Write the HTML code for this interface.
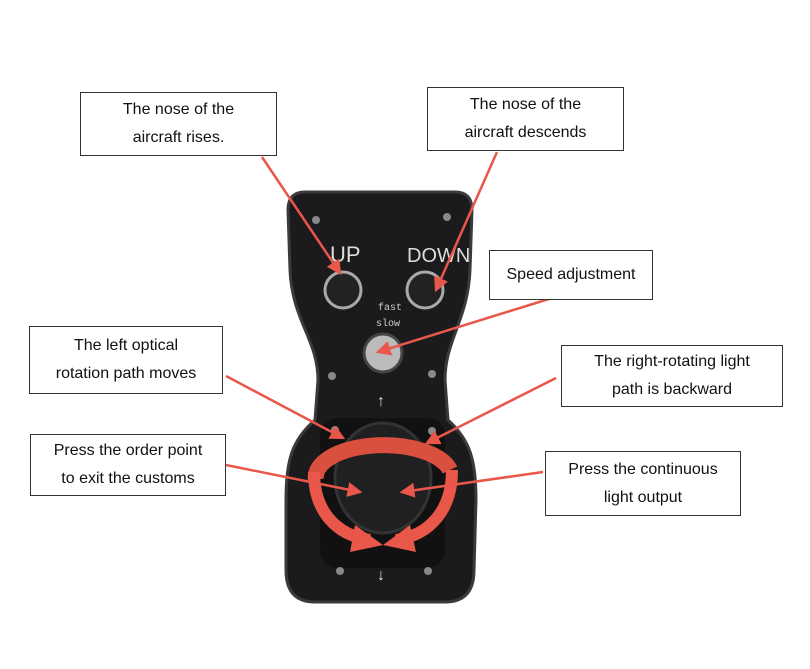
<!DOCTYPE html><html><head><style>body{margin:0;background:#fff;width:810px;height:669px;overflow:hidden}
.b{position:absolute;border:1px solid #333;background:#fff;font:16px/28px "Liberation Sans",sans-serif;color:#111;text-align:center;display:flex;align-items:center;justify-content:center;box-sizing:border-box}</style></head><body>
<svg width="810" height="669" style="position:absolute;left:0;top:0">
<defs><marker id="a" markerWidth="6" markerHeight="6" refX="5" refY="3" orient="auto"><path d="M0,0L6,3L0,6z" fill="#e8574a"/></marker></defs>
<path d="M305,192 L455,192 Q472,192 472,210 L470,270 C468,320 445,340 445,380 L448,420 C470,440 476,460 476,500 L474,570 Q474,602 445,602 L315,602 Q286,602 286,570 L286,500 C286,460 292,440 315,420 L318,380 C318,340 292,320 290,270 L288,210 Q288,192 305,192Z" fill="#1b1b1d" stroke="#3a3a3c" stroke-width="3"/>
<rect x="320" y="418" width="125" height="150" rx="18" fill="#111"/>
<ellipse cx="383" cy="478" rx="48" ry="55" fill="#202022" stroke="#333" stroke-width="3"/>
<g fill="#888"><circle cx="316" cy="220" r="4"/><circle cx="447" cy="217" r="4"/><circle cx="332" cy="376" r="4"/><circle cx="432" cy="374" r="4"/><circle cx="340" cy="571" r="4"/><circle cx="428" cy="571" r="4"/><circle cx="335" cy="430" r="4"/><circle cx="432" cy="431" r="4"/></g>
<text x="330" y="262" fill="#ddd" font-family="Liberation Sans" font-size="22">UP</text>
<text x="407" y="262" fill="#ddd" font-family="Liberation Sans" font-size="20">DOWN</text>
<circle cx="343" cy="290" r="18" fill="#222" stroke="#aaa" stroke-width="3"/>
<circle cx="425" cy="290" r="18" fill="#222" stroke="#aaa" stroke-width="3"/>
<circle cx="383" cy="353" r="19" fill="#bbb" stroke="#444" stroke-width="3"/>
<text x="378" y="310" fill="#ccc" font-size="10" font-family="Liberation Mono">fast</text>
<text x="376" y="326" fill="#ccc" font-size="10" font-family="Liberation Mono">slow</text>
<text x="377" y="406" fill="#ddd" font-size="16">↑</text><text x="377" y="580" fill="#ddd" font-size="16">↓</text>
<path d="M316,480 A68,32 0 0 1 450,470" fill="none" stroke="#d9503f" stroke-width="16"/>
<path d="M314,472 C314,510 335,535 370,540 M452,470 C452,510 430,535 396,540" fill="none" stroke="#e8574a" stroke-width="12"/>
<path d="M355,525 L383,545 L350,552z M410,525 L383,545 L416,552z" fill="#e8574a"/>
<g stroke="#e8574a" stroke-width="2.5" marker-end="url(#a)">
<line x1="262" y1="157" x2="340" y2="273"/><line x1="497" y1="152" x2="436" y2="290"/>
<line x1="552" y1="298" x2="378" y2="352"/><line x1="226" y1="376" x2="343" y2="438"/>
<line x1="556" y1="378" x2="427" y2="443"/><line x1="226" y1="465" x2="360" y2="492"/>
<line x1="543" y1="472" x2="402" y2="492"/></g>
</svg>
<div class="b" style="left:80px;top:92px;width:197px;height:64px">The nose of the<br>aircraft rises.</div>
<div class="b" style="left:427px;top:87px;width:197px;height:64px">The nose of the<br>aircraft descends</div>
<div class="b" style="left:489px;top:250px;width:164px;height:50px">Speed adjustment</div>
<div class="b" style="left:29px;top:326px;width:194px;height:68px">The left optical<br>rotation path moves</div>
<div class="b" style="left:561px;top:345px;width:222px;height:62px">The right-rotating light<br>path is backward</div>
<div class="b" style="left:30px;top:434px;width:196px;height:62px">Press the order point<br>to exit the customs</div>
<div class="b" style="left:545px;top:451px;width:196px;height:65px">Press the continuous<br>light output</div>
</body></html>
